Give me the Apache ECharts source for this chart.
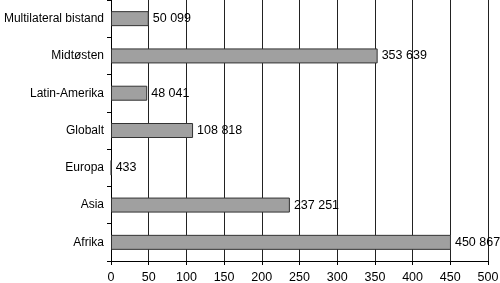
<!DOCTYPE html>
<html><head><meta charset="utf-8">
<script src="https://cdn.jsdelivr.net/npm/echarts@6/dist/echarts.min.js"></script>
<style>html,body{margin:0;padding:0;background:#fff}#c{width:500px;height:283px}</style>
</head><body><div id="c"></div>
<script>
const categories = ["Multilateral bistand","Midtøsten","Latin-Amerika","Globalt","Europa","Asia","Afrika"];
const values = [50099, 353639, 48041, 108818, 433, 237251, 450867];
const xTicks = [0,50,100,150,200,250,300,350,400,450,500];

function fmt(n){ return String(n).replace(/\B(?=(\d{3})+(?!\d))/g,' '); }

const F = 'Liberation Sans, Arial, sans-serif';
const chart = echarts.init(document.getElementById('c'));
chart.setOption({
  animation:false,
  grid:{left:111,right:12,top:0,bottom:22,containLabel:false,outerBoundsMode:'none'},
  xAxis:{type:'value',min:xTicks[0],max:xTicks[xTicks.length-1],interval:50,
    axisLine:{show:true,lineStyle:{color:'#000',width:1}},
    axisTick:{show:true,length:4,lineStyle:{color:'#000'}},
    axisLabel:{color:'#000',fontSize:12.5,fontFamily:F,margin:10.5,hideOverlap:false},
    splitLine:{show:true,lineStyle:{color:'#222',width:1}}},
  yAxis:{type:'category',data:categories,inverse:true,
    axisLine:{show:true,lineStyle:{color:'#000',width:1}},
    axisTick:{show:true,length:4,lineStyle:{color:'#000'}},
    axisLabel:{color:'#000',fontSize:12,fontFamily:F,margin:7}},
  series:[{type:'bar',data:values.map(v=>v/1000),barWidth:15,
    itemStyle:{color:'#a0a0a0',borderColor:'#333',borderWidth:1},
    label:{show:true,position:'right',distance:4,color:'#000',fontSize:12.5,
      fontFamily:F,
      formatter:p=>fmt(values[p.dataIndex])}}]
});
</script></body></html>
